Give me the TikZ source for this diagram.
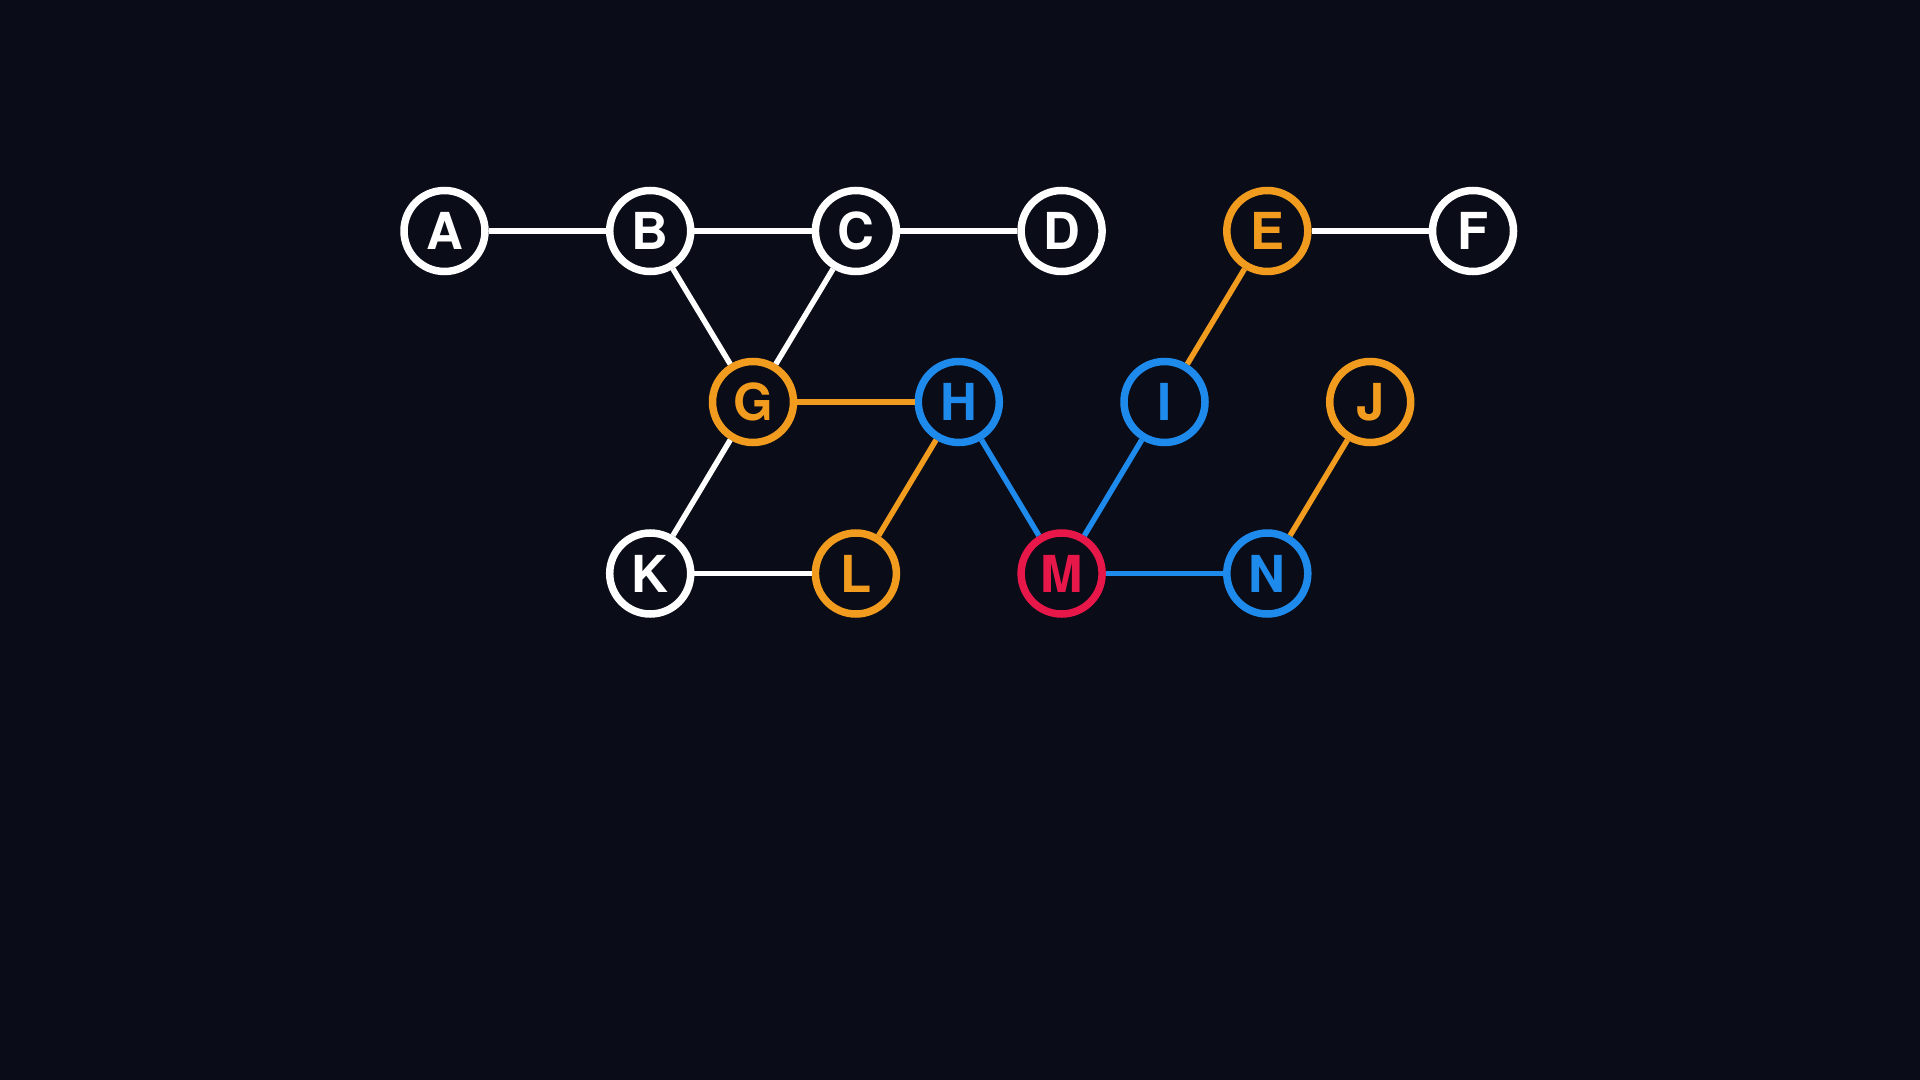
\documentclass[tikz,border=0pt]{standalone}
\usepackage{xcolor}
\usepackage{fontspec}
\setmainfont{TeX Gyre Heros}
\usepackage{tikz}

\definecolor{bgdark}{HTML}{0A0C18}
\definecolor{gorange}{HTML}{F29C1F}
\definecolor{gblue}{HTML}{1E8AEC}
\definecolor{gred}{HTML}{E8174A}

\begin{document}
\begin{tikzpicture}
\tikzstyle{every node}+=[inner sep=0pt]
\tikzstyle{vert}=[circle, minimum size=0.81cm, line width=0.075cm, fill=bgdark, font=\fontsize{14.5}{16}\selectfont\bfseries]
\tikzstyle{wvert}=[vert, draw=white, text=white]
\tikzstyle{overt}=[vert, draw=gorange, text=gorange]
\tikzstyle{bvert}=[vert, draw=gblue, text=gblue]
\tikzstyle{rvert}=[vert, draw=gred, text=gred]
\tikzstyle{wedge}=[white, line width=0.055cm]
\tikzstyle{oedge}=[gorange, line width=0.055cm]
\tikzstyle{bedge}=[gblue, line width=0.055cm]
\fill [bgdark] (0,0) rectangle (19.2,-10.8);
\useasboundingbox (0,0) rectangle (19.2,-10.8);
\node [wvert] (A) at (4.445,-2.31) {A};
\node [wvert] (B) at (6.502,-2.31) {B};
\node [wvert] (C) at (8.559,-2.31) {C};
\node [wvert] (D) at (10.616,-2.31) {D};
\node [overt] (E) at (12.673,-2.31) {E};
\node [wvert] (F) at (14.730,-2.31) {F};
\node [overt] (G) at (7.530,-4.02) {G};
\node [bvert] (H) at (9.588,-4.02) {H};
\node [bvert] (I) at (11.645,-4.02) {I};
\node [overt] (J) at (13.702,-4.02) {J};
\node [wvert] (K) at (6.502,-5.735) {K};
\node [overt] (L) at (8.559,-5.735) {L};
\node [rvert] (M) at (10.616,-5.735) {M};
\node [bvert] (N) at (12.673,-5.735) {N};
\draw [wedge] (A) -- (B);
\draw [wedge] (B) -- (C);
\draw [wedge] (C) -- (D);
\draw [wedge] (E) -- (F);
\draw [wedge] (B) -- (G);
\draw [wedge] (C) -- (G);
\draw [wedge] (G) -- (K);
\draw [wedge] (K) -- (L);
\draw [oedge] (G) -- (H);
\draw [oedge] (L) -- (H);
\draw [oedge] (I) -- (E);
\draw [oedge] (N) -- (J);
\draw [bedge] (H) -- (M);
\draw [bedge] (M) -- (I);
\draw [bedge] (M) -- (N);
\end{tikzpicture}
\end{document}
